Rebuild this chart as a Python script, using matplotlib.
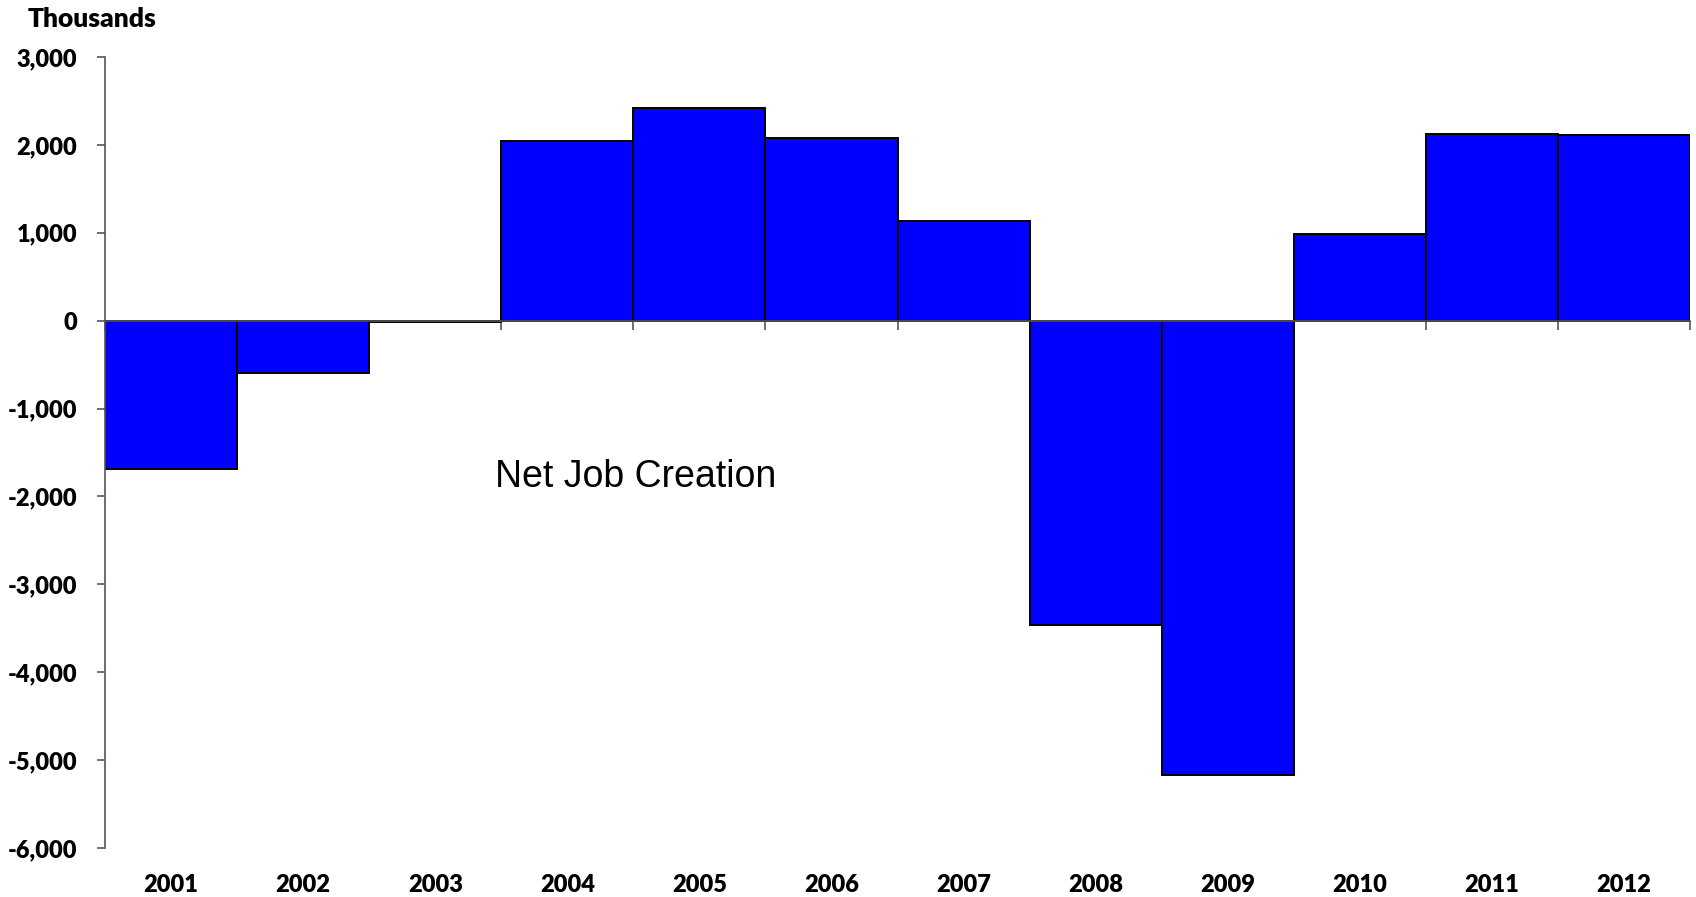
import numpy as np
import matplotlib
matplotlib.use("Agg")
import matplotlib.pyplot as plt

years = ["2001", "2002", "2003", "2004", "2005", "2006",
         "2007", "2008", "2009", "2010", "2011", "2012"]
net_jobs = [-1690, -590, -20, 2040, 2420, 2080,
            1130, -3460, -5170, 990, 2120, 2110]
y_ticks = [3000, 2000, 1000, 0, -1000, -2000, -3000, -4000, -5000, -6000]

TICK_FONT = dict(family="Lato", weight="heavy", size=17)

fig = plt.figure(figsize=(16.96, 8.97), dpi=100)
ax = fig.add_axes([0.0619, 0.0546, 0.9346, 0.8819])

x = np.arange(1, len(years) + 1)
ax.bar(x, net_jobs, width=1.0, color="#0000ff", edgecolor="black", linewidth=1.4, zorder=2)

ax.set_xlim(0.5, len(years) + 0.5)
ax.set_ylim(-6000, 3000)

# y axis
ax.set_yticks(y_ticks)
ax.set_yticklabels([f"{v:,}" for v in y_ticks], fontdict=TICK_FONT)
ax.tick_params(axis="y", direction="out", length=6, width=1.2, color="#555555", pad=14)
ax.spines["left"].set_color("#555555")
ax.spines["left"].set_linewidth(1.2)
for s in ("top", "right"):
    ax.spines[s].set_visible(False)

# x axis line sits at zero, ticks on category boundaries
ax.spines["bottom"].set_position(("data", 0))
ax.spines["bottom"].set_color("#555555")
ax.spines["bottom"].set_linewidth(1.2)
ax.spines["bottom"].set_zorder(3)
ax.set_xticks(np.arange(0.5, len(years) + 1.0, 1.0))
ax.set_xticklabels([])
ax.tick_params(axis="x", direction="out", length=6.5, width=1.2, color="#555555")

# category labels at the bottom of the plot
sec = ax.secondary_xaxis(0.0)
sec.set_xticks(x)
sec.set_xticklabels(years, fontdict=TICK_FONT)
sec.tick_params(axis="x", length=0, pad=19)
sec.spines["bottom"].set_visible(False)

ax.text(4.52, -1780, "Net Job Creation", ha="center", va="center",
        fontsize=27, family="Liberation Sans")
fig.text(0.016, 0.979, "Thousands", ha="left", va="center",
         family="Lato", weight="heavy", size=19)

fig.savefig("out.png", dpi=100)
